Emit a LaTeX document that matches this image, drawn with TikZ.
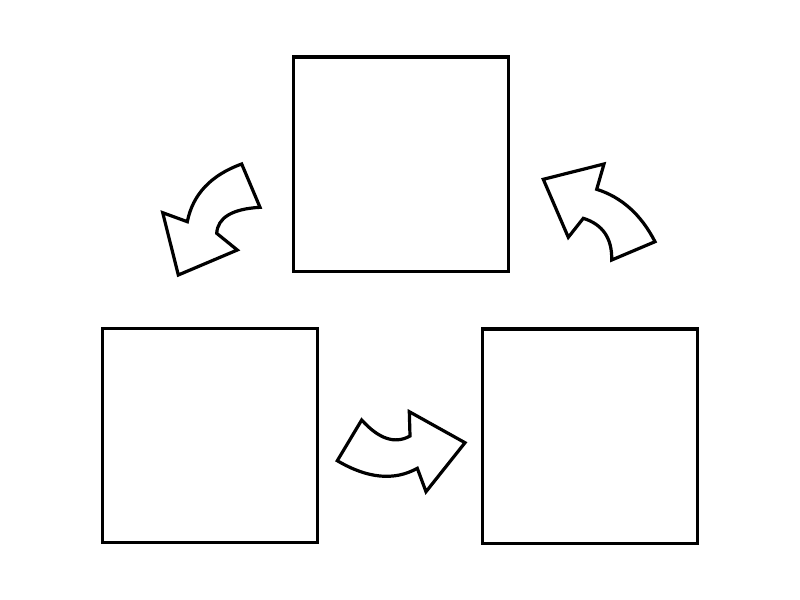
\documentclass[tikz,border=0pt]{standalone}
\begin{document}
\begin{tikzpicture}[x=0.75pt,y=-0.75pt,
  box/.style={draw=black,line width=2.3pt,minimum width=161.25pt,minimum height=160.9pt,inner sep=0pt,outer sep=0pt},
  blockarrow/.style={draw=black,fill=white,line width=2.4pt,line join=miter}]
\useasboundingbox (0,0) rectangle (800,600);
\fill[white] (0,0) rectangle (800,600);
\node[box] (top) at (401,164.25) {};
\node[box] (left) at (210.25,435.5) {};
\node[box] (right) at (589.75,436.25) {};
% left arrow (top -> left)
\draw[blockarrow] (241.7,164) -- (260,207.3)
  .. controls (232.1,208.9) and (217.7,217.6) .. (216.7,233.3)
  -- (237.3,250) -- (178.3,275) -- (162.7,212.7) -- (187.3,221.7)
  .. controls (192.8,194.3) and (210.9,175.1) .. cycle;
% right arrow (right -> top)
\draw[blockarrow] (543.3,179.3) -- (604,164) -- (596.7,189.3)
  .. controls (621.7,197.2) and (641.1,214.6) .. (655,241.7)
  -- (611.7,260)
  .. controls (612.2,238.3) and (602.8,224.4) .. (583.3,218.3)
  -- (568.3,237.3) -- cycle;
% bottom arrow (left -> right)
\draw[blockarrow] (361.7,420)
  .. controls (378.9,439.1) and (395.0,444.4) .. (410,436)
  -- (409.3,411.7) -- (465,442.7) -- (426,491.7) -- (417.3,468.3)
  .. controls (394.2,481.1) and (367.6,478.6) .. (337.3,460.7) -- cycle;
\end{tikzpicture}
\end{document}
